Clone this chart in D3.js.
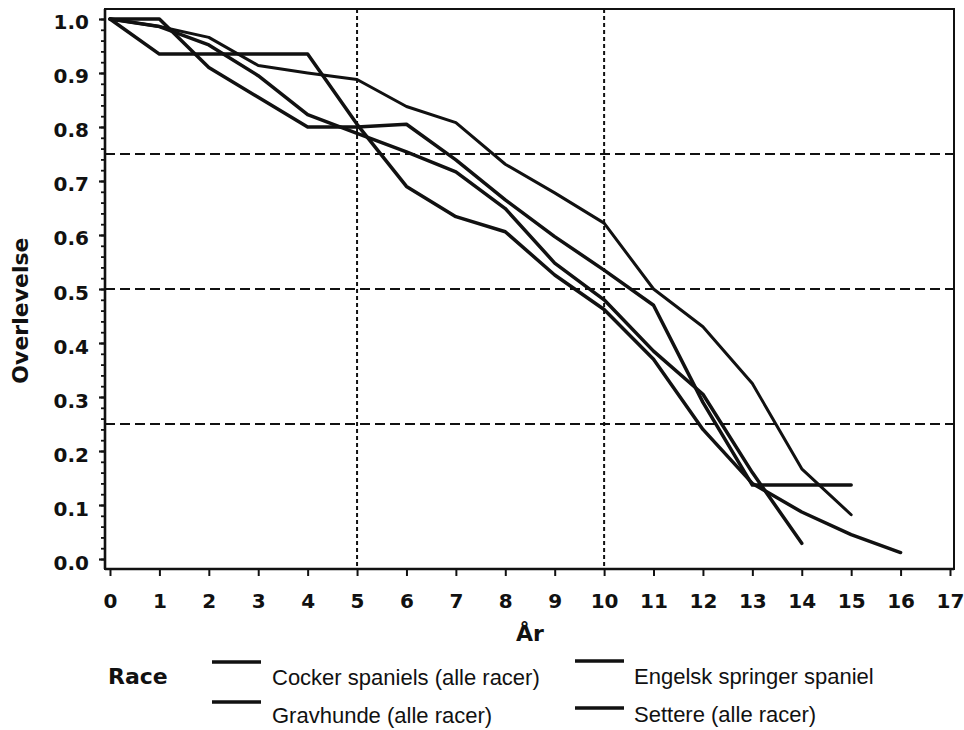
<!DOCTYPE html>
<html>
<head>
<meta charset="utf-8">
<script src="https://cdn.jsdelivr.net/npm/d3@7"></script>
<style>
    body { margin: 0; background: #fff; }
    #chart { width: 964px; height: 730px; }
    text { font-family: "Liberation Sans", Arial, sans-serif; fill: #111; }
    .bold-text { font-family: "DejaVu Sans", Verdana, sans-serif; font-weight: bold; }
</style>
</head>
<body>
<div id="chart"></div>
<script>
// Overlevelse pr. år
const years = [0, 1, 2, 3, 4, 5, 6, 7, 8, 9, 10, 11, 12, 13, 14, 15, 16];
const cockerValues   = [1.0, 1.0, 0.91, 0.855, 0.80, 0.80, 0.805, 0.739, 0.665, 0.597, 0.535, 0.47, 0.29, 0.137, 0.137, 0.137];
const springerValues = [1.0, 0.986, 0.966, 0.914, 0.90, 0.888, 0.838, 0.808, 0.731, 0.678, 0.622, 0.50, 0.43, 0.325, 0.167, 0.082];
const gravhundValues = [1.0, 0.935, 0.935, 0.935, 0.935, 0.805, 0.69, 0.634, 0.606, 0.526, 0.462, 0.37, 0.24, 0.14, 0.087, 0.045, 0.012];
const setterValues   = [1.0, 0.986, 0.952, 0.895, 0.823, 0.788, 0.754, 0.717, 0.649, 0.548, 0.48, 0.385, 0.305, 0.16, 0.029];

const seriesNames = ["Cocker spaniels (alle racer)", "Engelsk springer spaniel", "Gravhunde (alle racer)", "Settere (alle racer)"];
const yearTicks = d3.range(0, 18);
const survivalTicks = d3.range(0, 11).map(i => i / 10);
const minorTicks = d3.range(0, 51).map(i => i / 50);
const refSurvival = [0.25, 0.5, 0.75];
const refYears = [5, 10];

class SurvivalChart {
    constructor(containerId) {
        this.container = d3.select(`#${containerId}`);
        this.margin = { top: 9, right: 10, bottom: 161, left: 105 };
        this.width = 964;
        this.height = 730;
    }

    render() {
        const { width, height, margin } = this;
        const innerWidth = width - margin.left - margin.right;
        const innerHeight = height - margin.top - margin.bottom;

        const svg = this.container.append('svg')
            .attr('width', width)
            .attr('height', height);

        const g = svg.append('g')
            .attr('transform', `translate(${margin.left},${margin.top})`);

        const x = d3.scaleLinear().domain([-0.101, 17.081]).range([0, innerWidth]);
        const y = d3.scaleLinear().domain([-0.0185, 1.0185]).range([innerHeight, 0]);

        // reference lines
        g.selectAll('.ref-h')
            .data(refSurvival)
            .enter().append('line')
            .attr('x1', 0).attr('x2', innerWidth)
            .attr('y1', d => y(d)).attr('y2', d => y(d))
            .attr('stroke', '#111').attr('stroke-width', 2)
            .attr('stroke-dasharray', '10,5');

        g.selectAll('.ref-v')
            .data(refYears)
            .enter().append('line')
            .attr('y1', 0).attr('y2', innerHeight)
            .attr('x1', d => x(d)).attr('x2', d => x(d))
            .attr('stroke', '#111').attr('stroke-width', 2)
            .attr('stroke-dasharray', '4,3');

        // frame
        g.append('rect')
            .attr('width', innerWidth).attr('height', innerHeight)
            .attr('fill', 'none').attr('stroke', '#111').attr('stroke-width', 2);
        g.append('line')
            .attr('x1', 0).attr('x2', 0).attr('y1', 0).attr('y2', innerHeight)
            .attr('stroke', '#111').attr('stroke-width', 2.6);
        g.append('line')
            .attr('x1', 0).attr('x2', innerWidth).attr('y1', innerHeight).attr('y2', innerHeight)
            .attr('stroke', '#111').attr('stroke-width', 2.6);

        // x axis
        const xAxis = g.append('g')
            .attr('transform', `translate(0,${innerHeight})`)
            .call(d3.axisBottom(x).tickValues(yearTicks).tickSize(7).tickPadding(18).tickFormat(d3.format('d')));
        xAxis.select('.domain').remove();
        xAxis.selectAll('line').attr('stroke', '#111').attr('stroke-width', 2);
        xAxis.selectAll('text')
            .attr('class', 'bold-text')
            .attr('font-size', 20);

        // y axis minor + major
        const yMinor = g.append('g')
            .call(d3.axisLeft(y).tickValues(minorTicks).tickSize(4).tickFormat(''));
        yMinor.select('.domain').remove();
        yMinor.selectAll('line').attr('stroke', '#111').attr('stroke-width', 1.8);

        const yAxis = g.append('g')
            .call(d3.axisLeft(y).tickValues(survivalTicks).tickSize(6).tickPadding(10).tickFormat(d3.format('.1f')));
        yAxis.select('.domain').remove();
        yAxis.selectAll('line').attr('stroke', '#111').attr('stroke-width', 2.2);
        yAxis.selectAll('text')
            .attr('class', 'bold-text')
            .attr('dy', '0.5em')
            .attr('font-size', 20);

        // axis titles
        g.append('text')
            .attr('class', 'bold-text')
            .attr('x', x(8.5)).attr('y', innerHeight + 72)
            .attr('text-anchor', 'middle')
            .attr('font-size', 22)
            .text('År');

        g.append('text')
            .attr('class', 'bold-text')
            .attr('transform', `translate(${-margin.left + 28},${y(0.46)}) rotate(-90)`)
            .attr('text-anchor', 'middle')
            .attr('font-size', 22)
            .text('Overlevelse');

        // lines
        const seriesValues = [cockerValues, springerValues, gravhundValues, setterValues];
        const seriesData = seriesValues.map((vals, i) => ({
            name: seriesNames[i],
            values: vals.map((v, j) => ({ year: years[j], value: v }))
        }));

        const line = d3.line()
            .x(d => x(d.year))
            .y(d => y(d.value));

        g.selectAll('.line-series')
            .data(seriesData)
            .enter().append('path')
            .attr('class', 'line-series')
            .attr('fill', 'none')
            .attr('stroke', '#111')
            .attr('stroke-width', (d, i) => i === 1 ? 3.0 : 3.5)
            .attr('stroke-linejoin', 'round')
            .attr('stroke-linecap', 'round')
            .attr('d', d => line(d.values));

        // legend
        const legend = svg.append('g');
        legend.append('text')
            .attr('class', 'bold-text')
            .attr('x', 108).attr('y', 684)
            .attr('font-size', 22)
            .text('Race');

        const legendPos = [
            { sx: 212, sy: 662, tx: 272, ty: 685 },
            { sx: 575, sy: 661, tx: 634, ty: 684 },
            { sx: 212, sy: 702, tx: 272, ty: 723 },
            { sx: 575, sy: 708, tx: 634, ty: 722 }
        ];
        const items = legend.selectAll('.item')
            .data(seriesData)
            .enter().append('g');
        items.append('line')
            .attr('x1', (d, i) => legendPos[i].sx).attr('x2', (d, i) => legendPos[i].sx + 49)
            .attr('y1', (d, i) => legendPos[i].sy).attr('y2', (d, i) => legendPos[i].sy)
            .attr('stroke', '#111').attr('stroke-width', 3.6);
        items.append('text')
            .attr('x', (d, i) => legendPos[i].tx).attr('y', (d, i) => legendPos[i].ty)
            .attr('font-size', 22)
            .text(d => d.name);
    }
}

const chart = new SurvivalChart('chart');
chart.render();
</script>
</body>
</html>
